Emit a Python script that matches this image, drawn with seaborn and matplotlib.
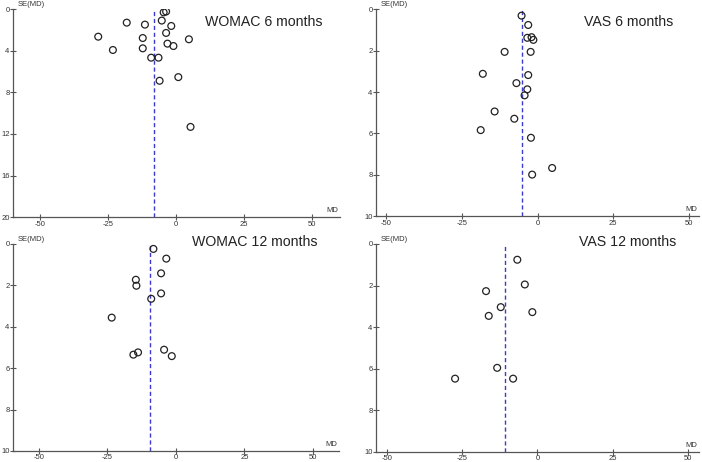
import matplotlib
matplotlib.use('Agg')
import matplotlib.pyplot as plt
import seaborn as sns
import pandas as pd

# ========= data =========
womac6_md = [-4.5, -3.6, -18.1, -11.4, -5.2, -1.7, -28.6, -12.2, -3.6, 4.8,
             -3.1, -0.9, -23.2, -12.2, -9.1, -6.4, -6.0, 0.9, 5.4]
womac6_se = [0.30, 0.22, 1.29, 1.48, 1.09, 1.61, 2.64, 2.77, 2.28, 2.89,
             3.31, 3.54, 3.92, 3.76, 4.66, 4.66, 6.88, 6.53, 11.32]
womac6_pooled = -8.0

vas6_md = [-5.3, -3.1, -3.4, -2.0, -1.4, -10.9, -2.3, -18.1, -3.1, -7.0,
           -3.4, -4.3, -14.2, -7.7, -18.8, -2.2, 4.8, -1.8]
vas6_se = [0.31, 0.76, 1.38, 1.35, 1.48, 2.06, 2.06, 3.12, 3.18, 3.57,
           3.87, 4.16, 4.94, 5.29, 5.84, 6.21, 7.67, 7.99]
vas6_pooled = -5.3

womac12_md = [-8.2, -3.5, -5.4, -14.6, -14.4, -5.4, -9.0, -23.4, -4.3, -13.8, -15.5, -1.5]
womac12_se = [0.24, 0.71, 1.42, 1.73, 2.02, 2.39, 2.65, 3.56, 5.11, 5.24, 5.35, 5.42]
womac12_pooled = -9.4

vas12_md = [-6.7, -4.2, -17.1, -12.2, -1.7, -16.2, -13.4, -27.4, -8.1]
vas12_se = [0.76, 1.95, 2.27, 3.04, 3.28, 3.46, 5.96, 6.48, 6.48]
vas12_pooled = -10.7

titles = ['WOMAC 6 months', 'VAS 6 months', 'WOMAC 12 months', 'VAS 12 months']
y_max = [20, 10, 10, 10]
y_ticks = [[0, 4, 8, 12, 16, 20], [0, 2, 4, 6, 8, 10], [0, 2, 4, 6, 8, 10], [0, 2, 4, 6, 8, 10]]
x_ticks = [-50, -25, 0, 25, 50]

# ========= layout =========
sns.set_style('ticks')
plt.rcParams['font.family'] = ['Liberation Sans', 'DejaVu Sans']
plt.rcParams['axes.unicode_minus'] = False

fig = plt.figure(figsize=(7.02, 4.62), dpi=100)
boxes = [
    [0.0185, 0.530, 0.466, 0.450],
    [0.5356, 0.532, 0.460, 0.448],
    [0.0185, 0.024, 0.4645, 0.448],
    [0.5356, 0.022, 0.460, 0.450],
]
xlims = [(-60, 60.5), (-53.4, 53.3), (-59.4, 59.5), (-53.7, 53.7)]
title_pos = [(0.945, 0.94), (0.92, 0.94), (0.935, 1.01), (0.93, 1.01)]

panels = [
    (womac6_md, womac6_se, womac6_pooled),
    (vas6_md, vas6_se, vas6_pooled),
    (womac12_md, womac12_se, womac12_pooled),
    (vas12_md, vas12_se, vas12_pooled),
]

axis_col = '#555555'
for i, (md, se, pooled) in enumerate(panels):
    ax = fig.add_axes(boxes[i])
    df = pd.DataFrame({'MD': md, 'SE': se})
    ax.axvline(pooled, color='#3a3ad0', linestyle=(0, (3, 2)), linewidth=1.0, zorder=1)
    sns.scatterplot(data=df, x='MD', y='SE', ax=ax, marker='o', s=24,
                    facecolor='none', edgecolor='#222222', linewidth=0.9, zorder=3)
    ax.set_xlim(*xlims[i])
    ax.set_ylim(y_max[i], 0)
    ax.set_xticks(x_ticks)
    ax.set_yticks(y_ticks[i])
    ax.set_xlabel('')
    ax.set_ylabel('')
    for s in ['top', 'right']:
        ax.spines[s].set_visible(False)
    for s in ['left', 'bottom']:
        ax.spines[s].set_color(axis_col)
        ax.spines[s].set_linewidth(0.9)
    ax.tick_params(axis='both', bottom=True, left=True, direction='inout',
                   length=5, width=0.8, color=axis_col, labelsize=5.5,
                   labelcolor='#333333', pad=0)
    ax.patch.set_alpha(0)
    ax.text(0.015, 1.005, 'SE(MD)', transform=ax.transAxes, fontsize=5.5,
            color='#333333', ha='left', va='bottom')
    ax.text(0.995, 0.015, 'MD', transform=ax.transAxes, fontsize=5.5,
            color='#333333', ha='right', va='bottom')
    ax.text(title_pos[i][0], title_pos[i][1], titles[i], transform=ax.transAxes,
            fontsize=10.2, color='#222222', ha='right', va='center')

fig.savefig('out.png', dpi=100)
